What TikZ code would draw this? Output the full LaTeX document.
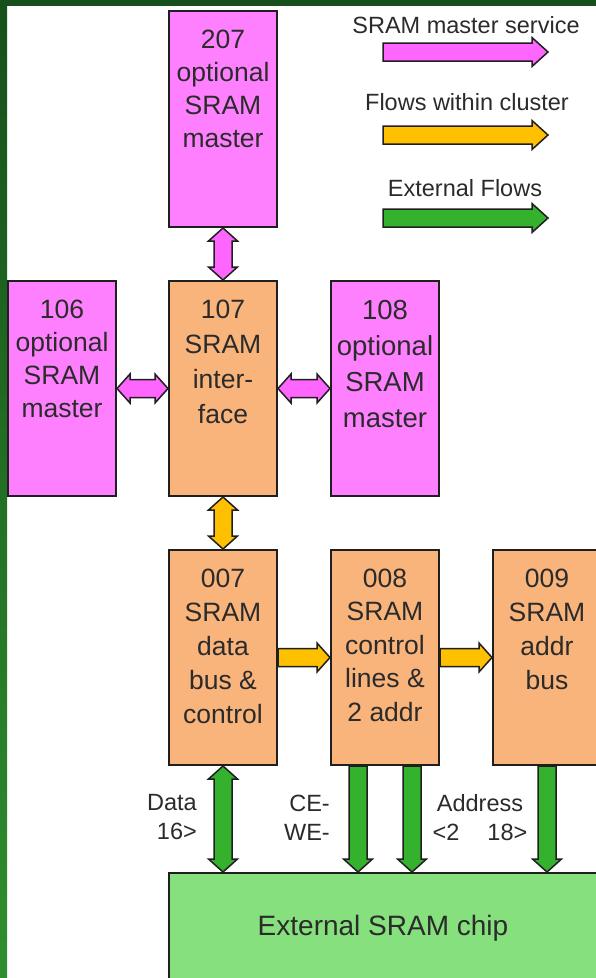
\documentclass[tikz,border=0pt]{standalone}
\usepackage{fontspec}
\setmainfont{Liberation Sans}
\usetikzlibrary{calc}
\definecolor{mag}{HTML}{FF80FF}
\definecolor{peach}{HTML}{F9B47B}
\definecolor{chipg}{HTML}{86E07E}
\definecolor{parrow}{HTML}{FF66FF}
\definecolor{yarrow}{HTML}{FFC000}
\definecolor{garrow}{HTML}{35B22D}
\definecolor{boxline}{HTML}{1F1F1F}
\definecolor{txt}{HTML}{2B2B2B}
\definecolor{stripA}{HTML}{17501A}
\definecolor{stripB}{HTML}{2F8F2F}
\tikzset{
  box/.style={draw=boxline, line width=2pt, minimum width=108pt, inner sep=0pt},
  magbox/.style={box, fill=mag},
  orbox/.style={box, fill=peach},
  btext/.style={anchor=north, align=center, inner sep=0pt, text=txt, font=\fontsize{26.5}{33}\selectfont},
  ltext/.style={inner sep=0pt, text=txt, font=\fontsize{23.5}{29}\selectfont},
  arrline/.style={draw=boxline, line width=1.5pt, line join=miter},
}
\def\aw{9pt}\def\ah{14.5pt}\def\al{13pt}
\newcommand\vdarr[3]{\draw[arrline, fill=#1] let \p1=(#2), \p2=(#3) in
  (\x1,\y1) -- (\x1+\ah,\y1-\al) -- (\x1+\aw,\y1-\al) -- (\x1+\aw,\y2+\al) -- (\x1+\ah,\y2+\al) -- (\x1,\y2)
  -- (\x1-\ah,\y2+\al) -- (\x1-\aw,\y2+\al) -- (\x1-\aw,\y1-\al) -- (\x1-\ah,\y1-\al) -- cycle;}
\newcommand\hdarr[3]{\draw[arrline, fill=#1] let \p1=(#2), \p2=(#3) in
  (\x1,\y1) -- (\x1+\al,\y1+\ah) -- (\x1+\al,\y1+\aw) -- (\x2-\al,\y1+\aw) -- (\x2-\al,\y1+\ah) -- (\x2,\y1)
  -- (\x2-\al,\y1-\ah) -- (\x2-\al,\y1-\aw) -- (\x1+\al,\y1-\aw) -- (\x1+\al,\y1-\ah) -- cycle;}
\newcommand\hsarr[3]{\draw[arrline, fill=#1] let \p1=(#2), \p2=(#3) in
  (\x1,\y1+\aw) -- (\x2-\al,\y1+\aw) -- (\x2-\al,\y1+\ah) -- (\x2,\y1) -- (\x2-\al,\y1-\ah) -- (\x2-\al,\y1-\aw)
  -- (\x1,\y1-\aw) -- cycle;}
\newcommand\vsarr[3]{\draw[arrline, fill=#1] let \p1=(#2), \p2=(#3) in
  (\x1-\aw,\y1) -- (\x1+\aw,\y1) -- (\x1+\aw,\y2+\al) -- (\x1+\ah,\y2+\al) -- (\x1,\y2) -- (\x1-\ah,\y2+\al)
  -- (\x1-\aw,\y2+\al) -- cycle;}
\begin{document}
\begin{tikzpicture}[x=1pt, y=-1pt]
\useasboundingbox (0,0) rectangle (596,978);
\fill[white] (0,0) rectangle (596,978);
\shade[top color=stripA, bottom color=stripB] (0,0) rectangle (7,978);
\fill[stripA] (0,0) rectangle (596,6);

% boxes
\node[magbox, minimum height=216pt] (b207) at (223,119) {};
\node[magbox, minimum height=215pt] (b106) at (62,388.5) {};
\node[orbox, minimum height=215pt] (b107) at (223,388.5) {};
\node[magbox, minimum height=215pt] (b108) at (385,388.5) {};
\node[orbox, minimum height=215pt] (b007) at (223,657.5) {};
\node[orbox, minimum height=215pt] (b008) at (385,657.5) {};
\node[orbox, minimum height=215pt] (b009) at (547,657.5) {};
\node[box, fill=chipg, minimum width=441pt, minimum height=117pt] (chip) at (389.5,931.5) {};

% box texts
\node[btext] (t207) at (223,29.5) {207\\optional\\SRAM\\master};
\node[btext] (t106) at (62,299.5) {106\\optional\\SRAM\\master};
\node[btext, font=\fontsize{26.5}{35}\selectfont] (t107) at (223,299.5) {107\\SRAM\\inter-\\face};
\node[btext, font=\fontsize{27.5}{36}\selectfont] (t108) at (385,300.5) {108\\optional\\SRAM\\master};
\node[btext, font=\fontsize{26.5}{34}\selectfont] (t007) at (223,568.5) {007\\SRAM\\data\\bus \&\\control};
\node[btext, font=\fontsize{26.5}{33.5}\selectfont] (t008) at (385,568.5) {008\\SRAM\\control\\lines \&\\2 addr};
\node[btext, font=\fontsize{26.5}{34}\selectfont] (t009) at (547,568.5) {009\\SRAM\\addr\\bus};
\node[ltext, anchor=base, font=\fontsize{28}{34}\selectfont] (tchip) at (383,935) {External SRAM chip};

% arrows between boxes
\vdarr{parrow}{b207.south}{b107.north}
\hdarr{parrow}{b106.east}{b107.west}
\hdarr{parrow}{b107.east}{b108.west}
\vdarr{yarrow}{b107.south}{b007.north}
\hsarr{yarrow}{b007.east}{b008.west}
\hsarr{yarrow}{b008.east}{b009.west}
\coordinate (dbot) at (b007.south |- chip.north);
\vdarr{garrow}{b007.south}{dbot}
\coordinate (ce1) at ([xshift=-27pt]b008.south);
\coordinate (ce2) at ([xshift=27pt]b008.south);
\coordinate (ce1b) at (ce1 |- chip.north);
\coordinate (ce2b) at (ce2 |- chip.north);
\vsarr{garrow}{ce1}{ce1b}
\vsarr{garrow}{ce2}{ce2b}
\coordinate (adbot) at (b009.south |- chip.north);
\vsarr{garrow}{b009.south}{adbot}

% bus labels
\node[ltext, anchor=north east, align=right] (ldata) at (197,794.5) {Data\\16>};
\node[ltext, anchor=north east, align=right] (lce) at (330,794.5) {CE-\\WE-};
\node[ltext, anchor=north, align=center] (laddr) at (480,794.5) {Address\\<2\hspace{28pt}18>};

% legend
\node[ltext, anchor=base] (leg1) at (466,33.5) {SRAM master service};
\node[ltext, anchor=base] (leg2) at (467,110) {Flows within cluster};
\node[ltext, anchor=base] (leg3) at (465,196.5) {External Flows};
\def\aw{9pt}\def\ah{14.5pt}\def\al{16pt}
\coordinate (l1a) at (383,52); \coordinate (l1b) at (548,52);
\coordinate (l2a) at (383,135); \coordinate (l2b) at (548,135);
\coordinate (l3a) at (383,218); \coordinate (l3b) at (548,218);
\hsarr{parrow}{l1a}{l1b}
\hsarr{yarrow}{l2a}{l2b}
\hsarr{garrow}{l3a}{l3b}
\end{tikzpicture}
\end{document}
